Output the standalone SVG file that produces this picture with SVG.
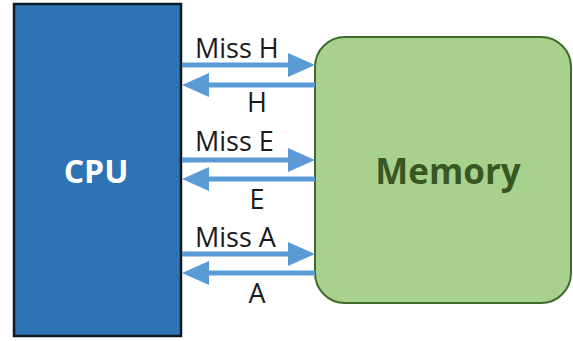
<svg xmlns="http://www.w3.org/2000/svg" width="573" height="341" viewBox="0 0 573 341">
<defs>
<style>
.lbl{font-family:"Open Sans","Liberation Sans",sans-serif;font-size:27px;fill:#1a1a1a}
.arr{fill:#5b9bd5}
</style>
</defs>
<rect width="573" height="341" fill="#ffffff"/>
<g id="cpu">
<rect x="14" y="4" width="167" height="332" fill="#2e74b5" stroke="#0d1a26" stroke-width="2.5"/>
<text x="96" y="183" text-anchor="middle" font-family="Open Sans, Liberation Sans, sans-serif" font-weight="bold" font-size="32" fill="#ffffff">CPU</text>
</g>
<g id="memory">
<rect x="315" y="37" width="256" height="266" rx="30" ry="30" fill="#a9d18e" stroke="#3e6b2c" stroke-width="2"/>
<text x="448" y="184" text-anchor="middle" font-family="Open Sans, Liberation Sans, sans-serif" font-weight="bold" font-size="35" fill="#385723">Memory</text>
</g>
<g id="connectors">
<g transform="translate(0,65)">
<path class="arr" d="M182,-2.5 H288 V-12 L315,0 L288,12 V2.5 H182 Z"/>
<path class="arr" d="M315,17.5 H209 V8 L182,20 L209,32 V22.5 H315 Z"/>
</g>
<g transform="translate(0,160)">
<path class="arr" d="M182,-2.5 H288 V-12 L315,0 L288,12 V2.5 H182 Z"/>
<path class="arr" d="M315,16.5 H209 V7 L182,19 L209,31 V21.5 H315 Z"/>
</g>
<g transform="translate(0,254)">
<path class="arr" d="M182,-2.5 H288 V-12 L315,0 L288,12 V2.5 H182 Z"/>
<path class="arr" d="M315,16.5 H209 V7 L182,19 L209,31 V21.5 H315 Z"/>
</g>
</g>
<g id="labels">
<text class="lbl" x="195" y="58">Miss H</text>
<text class="lbl" x="257" y="112" text-anchor="middle">H</text>
<text class="lbl" x="195" y="151">Miss E</text>
<text class="lbl" x="257" y="209" text-anchor="middle">E</text>
<text class="lbl" x="195" y="247">Miss A</text>
<text class="lbl" x="257" y="303" text-anchor="middle">A</text>
</g>
</svg>
